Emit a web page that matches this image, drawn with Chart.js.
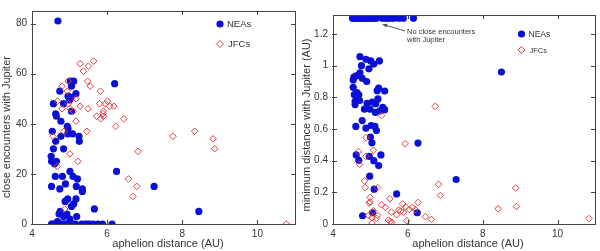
<!DOCTYPE html>
<html>
<head>
<meta charset="utf-8">
<script src="https://cdn.jsdelivr.net/npm/chart.js@4/dist/chart.umd.min.js"></script>
<style>
  html, body { margin: 0; padding: 0; background: #fff; }
  #wrap { position: relative; width: 600px; height: 251px; }
  canvas { position: absolute; top: 0; }
  #left { left: 0; }
  #right { left: 300px; }
</style>
</head>
<body>
<div id="wrap">
  <canvas id="left" width="300" height="251"></canvas>
  <canvas id="right" width="300" height="251"></canvas>
</div>
<script>
// left panel: close encounters with Jupiter
const neaAphelionA = [4.69, 6.2, 5.02, 5.11, 5.05, 4.74, 5.17, 4.96, 5.04, 5.0, 4.57, 4.84, 5.05, 4.63, 4.65, 4.77,
  4.94, 4.96, 4.54, 4.95, 5.08, 5.25, 4.77, 4.63, 5.26, 4.57, 4.84, 4.51, 4.52, 4.65, 4.6, 6.25, 5.01, 4.62, 4.81,
  5.09, 5.21, 4.89, 4.52, 5.18, 7.25, 4.74, 5.34, 5.34, 5.17, 4.95, 4.88, 5.11, 5.05, 5.66, 8.44, 4.75, 4.72, 4.93,
  5.19, 4.84, 5.01, 4.68,
  4.52, 4.56, 4.6, 4.64, 4.68, 4.72, 4.76, 4.8, 4.84, 4.88, 4.92, 4.96, 5.0, 5.04, 5.1, 5.16,
  5.32, 5.41, 5.47, 5.54, 5.63, 5.76, 5.88, 6.13];
const neaEncounters = [81, 56, 57, 57, 55, 53, 52, 51, 50.5, 49.5, 48, 48, 45, 44, 43, 41,
  39, 38, 37, 36, 36, 35, 35, 33, 33, 30, 30, 27, 25, 25, 24, 21, 21, 19, 19,
  19, 18, 16, 15, 15, 15, 14, 14, 13, 10, 10, 9, 8, 7, 6, 5, 5, 4, 4,
  3, 3, 2, 1,
  0, 0, 0, 0, 0, 0, 0, 0, 0, 0, 0, 0, 0, 0, 0, 0,
  0, 0, 0, 0, 0, 0, 0, 0];
const jfcAphelionA = [5.28, 5.64, 5.5, 5.37, 4.96, 5.48, 4.8, 5.55, 4.94, 5.82, 5.17, 4.68, 4.97, 6.01, 5.95, 5.8,
  6.07, 6.18, 5.28, 4.8, 5.01, 5.49, 5.9, 5.89, 5.1, 5.72, 5.9, 5.83, 6.44, 5.17, 6.23, 4.85, 5.46, 4.56,
  8.33, 7.75, 8.82, 8.86, 6.82, 5.01, 5.22, 4.67, 6.57, 6.79, 6.69, 4.87, 10.77];
const jfcEncounters = [64, 65, 63, 61, 57, 57, 55, 55, 53, 53, 50, 49, 48, 49, 48, 48,
  47, 47, 47, 46, 46, 46, 45, 44, 45, 43, 43, 42, 42, 41, 39, 37, 37, 35,
  37, 35, 34, 30, 29, 28, 25, 23, 18, 15, 11, 6, 0];

// right panel: minimum distance with Jupiter (AU)
const neaAphelionB = [4.72, 4.88, 5.24, 5.01, 5.09, 4.76, 4.96, 8.5, 4.72, 4.62, 4.56, 4.78, 4.54, 4.9, 4.54,
  5.22, 5.18, 5.38, 4.64, 4.69, 4.57, 4.65, 5.2, 4.59, 4.71, 4.91, 5.05, 4.59, 5.14, 4.84, 4.99, 5.33, 5.38,
  5.25, 5.13, 4.78, 4.61, 5.02, 5.12, 4.88, 5.16, 5.0, 5.04, 6.27, 4.62, 5.28, 4.97, 4.69, 5.09, 5.22, 4.98,
  7.29, 5.1, 5.7, 5.06, 4.79, 6.25,
  4.52, 4.56, 4.6, 4.64, 4.68, 4.72, 4.76, 4.8, 4.84, 4.88, 4.92, 4.96, 5.0, 5.04, 5.1, 5.16,
  5.32, 5.4, 5.47, 5.54, 5.63, 5.76, 5.88, 6.15];
const neaMinDist = [1.057, 1.04, 1.03, 1.03, 1.01, 1.0, 0.98, 0.96, 0.955, 0.936, 0.928, 0.92, 0.91, 0.9, 0.863,
  0.859, 0.842, 0.84, 0.83, 0.815, 0.817, 0.79, 0.79, 0.775, 0.78, 0.762, 0.77, 0.754, 0.76, 0.725, 0.725, 0.737, 0.722,
  0.714, 0.705, 0.653, 0.616, 0.622, 0.616, 0.605, 0.59, 0.549, 0.513, 0.511, 0.436, 0.436, 0.427, 0.402, 0.4, 0.369, 0.302,
  0.281, 0.22, 0.19, 0.071, 0.052, 0.071,
  1.3, 1.3, 1.3, 1.3, 1.3, 1.3, 1.3, 1.3, 1.3, 1.3, 1.3, 1.3, 1.3, 1.3, 1.3, 1.3,
  1.3, 1.3, 1.3, 1.3, 1.3, 1.3, 1.3, 1.3];
const jfcAphelionB = [6.73, 5.3, 4.88, 5.93, 5.08, 4.68, 4.88, 4.71, 4.84, 6.82, 4.86, 5.19, 8.88, 6.87, 4.99, 5.52,
  4.99, 4.97, 6.27, 5.3, 5.86, 5.4, 8.41, 8.9, 5.94, 6.12, 6.04, 6.2, 5.75, 5.81, 5.88, 5.56, 5.7, 5.08, 4.95,
  5.04, 5.16, 5.19, 6.47, 6.63, 5.97, 5.48, 5.53, 5.57, 5.04, 10.84];
const jfcMinDist = [0.743, 0.685, 0.545, 0.507, 0.465, 0.457, 0.427, 0.377, 0.272, 0.251, 0.23, 0.23, 0.228, 0.18, 0.168, 0.16,
  0.14, 0.132, 0.136, 0.121, 0.126, 0.105, 0.096, 0.111, 0.109, 0.105, 0.092, 0.092, 0.088, 0.082, 0.075, 0.075, 0.059, 0.084, 0.054,
  0.04, 0.036, 0.054, 0.046, 0.029, 0.021, 0.025, 0.015, 0.01, 0.006, 0.034];

const blue = "#0a10d4";
const red = "#e04040";
const ink = "#333";

const toPoints = (xs, ys) => xs.map((x, i) => ({ x: x, y: ys[i] }));

// frame, inward ticks, legend, titles
const decor = {
  id: "decor",
  afterDatasetsDraw(chart, args, opts) {
    const ctx = chart.ctx;
    const a = chart.chartArea;
    const xs = chart.scales.x;
    const ys = chart.scales.y;
    ctx.save();
    ctx.strokeStyle = "#444";
    ctx.lineWidth = 1;
    ctx.strokeRect(Math.round(a.left) + 0.5, Math.round(a.top) + 0.5,
      Math.round(a.right - a.left), Math.round(a.bottom - a.top));
    ctx.beginPath();
    xs.ticks.forEach((t) => {
      const px = Math.round(xs.getPixelForValue(t.value)) + 0.5;
      ctx.moveTo(px, a.bottom); ctx.lineTo(px, a.bottom - 4);
      ctx.moveTo(px, a.top); ctx.lineTo(px, a.top + 4);
    });
    ys.ticks.forEach((t) => {
      const py = Math.round(ys.getPixelForValue(t.value)) + 0.5;
      ctx.moveTo(a.left - 1, py); ctx.lineTo(a.left + 4, py);
      ctx.moveTo(a.right, py); ctx.lineTo(a.right - 4, py);
    });
    ctx.stroke();

    // legend
    const lg = opts.legend;
    ctx.fillStyle = blue;
    ctx.beginPath();
    ctx.arc(lg.x, lg.y1, 3.6, 0, Math.PI * 2);
    ctx.fill();
    ctx.strokeStyle = red;
    ctx.beginPath();
    ctx.moveTo(lg.x, lg.y2 - 3.5); ctx.lineTo(lg.x + 3.5, lg.y2);
    ctx.lineTo(lg.x, lg.y2 + 3.5); ctx.lineTo(lg.x - 3.5, lg.y2);
    ctx.closePath();
    ctx.stroke();
    ctx.fillStyle = ink;
    ctx.textBaseline = "middle";
    ctx.textAlign = "left";
    ctx.font = lg.f1 + "px 'Liberation Sans', Arial, sans-serif";
    ctx.fillText("NEAs", lg.x + 7, lg.y1 + 0.5);
    ctx.font = lg.f2 + "px 'Liberation Sans', Arial, sans-serif";
    ctx.fillText("JFCs", lg.x + 8, lg.y2 + 0.5);

    // axis titles
    ctx.font = "11px 'Liberation Sans', Arial, sans-serif";
    ctx.textAlign = "center";
    ctx.fillText("aphelion distance (AU)", 168, 244);
    ctx.save();
    ctx.translate(7, opts.yTitleY);
    ctx.rotate(-Math.PI / 2);
    ctx.fillText(opts.yTitle, 0, 0);
    ctx.restore();

    // annotation
    if (opts.note) {
      ctx.strokeStyle = "#555";
      ctx.fillStyle = "#555";
      ctx.beginPath();
      ctx.moveTo(105, 31); ctx.lineTo(85, 25);
      ctx.stroke();
      ctx.beginPath();
      ctx.moveTo(82, 24.2); ctx.lineTo(87.5, 23.8); ctx.lineTo(86.3, 27.4);
      ctx.closePath();
      ctx.fill();
      ctx.fillStyle = ink;
      ctx.textAlign = "left";
      ctx.font = "7.5px 'Liberation Sans', Arial, sans-serif";
      ctx.fillText("No close encounters", 107, 32);
      ctx.fillText("with Jupiter", 107, 39.5);
    }
    ctx.restore();
  },
};

function makeChart(id, neaPts, jfcPts, yMax, yStep, yWidth, topPad, fmt, decorOpts) {
  return new Chart(document.getElementById(id), {
    type: "scatter",
    data: {
      datasets: [
        {
          label: "NEAs",
          data: neaPts,
          order: 2,
          pointStyle: "circle",
          pointRadius: 3.6,
          backgroundColor: blue,
          borderColor: blue,
          borderWidth: 0,
        },
        {
          label: "JFCs",
          data: jfcPts,
          order: 1,
          pointStyle: "rectRot",
          pointRadius: 3.3,
          backgroundColor: "rgba(255,255,255,0)",
          borderColor: red,
          borderWidth: 1,
        },
      ],
    },
    options: {
      responsive: false,
      animation: false,
      layout: { padding: { top: topPad, right: 5, left: 0, bottom: 0 } },
      scales: {
        x: {
          type: "linear",
          min: 4,
          max: 11,
          grid: { display: false, drawTicks: false },
          border: { display: false },
          afterFit: (s) => { s.height = 27; },
          ticks: {
            stepSize: 2,
            includeBounds: false,
            padding: 4,
            color: ink,
            font: { family: "'Liberation Sans', Arial, sans-serif", size: 10 },
          },
        },
        y: {
          type: "linear",
          min: 0,
          max: yMax,
          grid: { display: false, drawTicks: false },
          border: { display: false },
          afterFit: (s) => { s.width = yWidth; },
          ticks: {
            stepSize: yStep,
            includeBounds: false,
            padding: 5,
            color: ink,
            callback: fmt,
            font: { family: "'Liberation Sans', Arial, sans-serif", size: 10 },
          },
        },
      },
      plugins: {
        legend: { display: false },
        tooltip: { enabled: false },
        decor: decorOpts,
      },
    },
    plugins: [decor],
  });
}

makeChart("left", toPoints(neaAphelionA, neaEncounters), toPoints(jfcAphelionA, jfcEncounters),
  85, 20, 32, 5, (v) => String(v),
  { legend: { x: 220, y1: 24, y2: 44, f1: 9.5, f2: 9.5 }, yTitle: "close encounters with Jupiter", yTitleY: 127, note: false });

makeChart("right", toPoints(neaAphelionB, neaMinDist), toPoints(jfcAphelionB, jfcMinDist),
  1.32, 0.2, 33, 15, (v) => String(+v.toFixed(2)),
  { legend: { x: 221.5, y1: 34, y2: 50, f1: 8.5, f2: 7.5 }, yTitle: "minimum distance with Jupiter (AU)", yTitleY: 125, note: true });
</script>
</body>
</html>
